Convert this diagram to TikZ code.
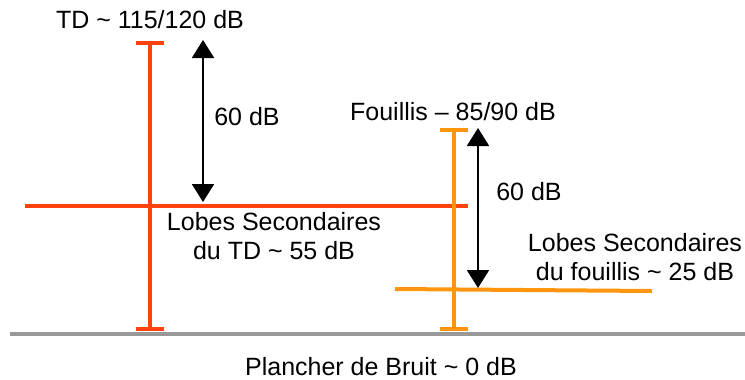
\documentclass[tikz,border=0pt]{standalone}
\usepackage{fontspec}
\setmainfont{Liberation Sans}
\usetikzlibrary{arrows.meta}
\definecolor{tdred}{HTML}{FF420E}
\definecolor{fouorange}{HTML}{FF950E}
\definecolor{floorgray}{HTML}{999999}
\begin{document}
\begin{tikzpicture}[
    x=1pt, y=-1pt,
    lbl/.style={anchor=base, inner sep=0pt, align=center,
                font=\fontsize{25}{28.5}\selectfont},
    level/.style={line width=4pt},
    span/.style={line width=4pt, {Bar[width=28pt]}-{Bar[width=28pt]}},
    gap/.style={line width=1.8pt, {Triangle[width=22pt,length=18pt]}-{Triangle[width=22pt,length=18pt]}},
]
\useasboundingbox (0,0) rectangle (745,380);

% Noise floor
\coordinate (fl0) at (10,334);
\coordinate (fl1) at (745,334);
\draw[floorgray, line width=4pt] (fl0) -- (fl1);
\node[lbl] (floor) at (381,375) {Plancher de Bruit \char"7E{} 0 dB};

% TD
\coordinate (tdtop) at (150,41);
\coordinate (tdbot) at (150,331);
\coordinate (tdl0) at (25,206);
\coordinate (tdl1) at (468,206);
\draw[tdred, span] (tdtop) -- (tdbot);
\draw[tdred, level] (tdl0) -- (tdl1);
\coordinate (tda0) at (203,40);
\coordinate (tda1) at (203,202);
\draw[gap] (tda0) -- (tda1);
\node[lbl] (tdname) at (150,28) {TD \char"7E{} 115/120 dB};
\node[lbl] (tdgap) at (247,125) {60 dB};
\node[lbl] (tdside) at (274,259) {Lobes Secondaires\\du TD \char"7E{} 55 dB};

% Fouillis
\coordinate (foutop) at (454,128);
\coordinate (foubot) at (454,331);
\coordinate (foul0) at (395,289);
\coordinate (foul1) at (652,291);
\draw[fouorange, span] (foutop) -- (foubot);
\draw[fouorange, level] (foul0) -- (foul1);
\coordinate (foua0) at (478,128);
\coordinate (foua1) at (478,288);
\draw[gap] (foua0) -- (foua1);
\node[lbl] (founame) at (453,120) {Fouillis -- 85/90 dB};
\node[lbl] (fougap) at (529,200) {60 dB};
\node[lbl] (fouside) at (635,280) {Lobes Secondaires\\du fouillis \char"7E{} 25 dB};
\end{tikzpicture}
\end{document}
